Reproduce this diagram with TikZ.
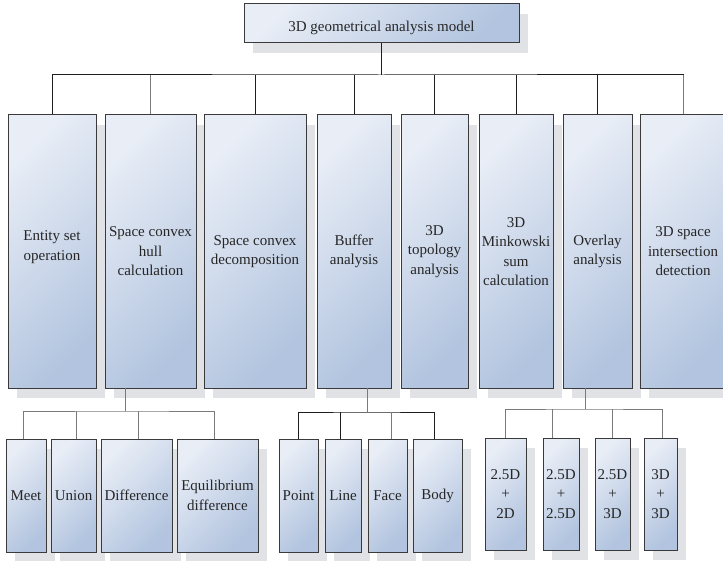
\documentclass[tikz,border=0pt]{standalone}
\usepackage{fontspec}
\setmainfont{Liberation Serif}
\usetikzlibrary{shadows}

\definecolor{boxlight}{HTML}{E8EDF6}
\definecolor{boxdark}{HTML}{B2C4DF}
\definecolor{shadowgray}{HTML}{E1E2E6}
\definecolor{edge}{HTML}{3A3A3A}
\definecolor{wiredark}{HTML}{1E1E1E}
\definecolor{wiregray}{HTML}{7A7A7A}

\tikzset{
  boxfont/.style={font=\fontsize{15pt}{19.5pt}\selectfont, text=black!85},
  box/.style={draw=edge, line width=1pt, inner sep=0pt, align=center,
    top color=boxlight, bottom color=boxdark, shading angle=45,
    drop shadow={shadow xshift=9pt, shadow yshift=-10pt, fill=shadowgray, opacity=1},
    boxfont},
  sz/.style 2 args={minimum width=#1pt, minimum height=#2pt},
  wire/.style={draw=wiredark, line width=1pt},
  softwire/.style={draw=wiregray, line width=1pt},
}

\begin{document}
\begin{tikzpicture}[x=1pt, y=-1pt]
\useasboundingbox (0,0) rectangle (723,561);

% root
\node[box, sz={275}{39}, text height=16.5pt, text depth=0pt] (root) at (381.5,23.5)
  {3D geometrical analysis model};

% first level
\node[box, sz={88}{273},
  label={[boxfont, align=center, yshift=4.5pt]center:Entity set\\operation}]
  (entity) at (52,251.5) {};
\node[box, sz={91}{273}]  (hull)   at (150.5,251.5) {Space convex\\hull\\calculation};
\node[box, sz={102}{273}] (decomp) at (255,251.5) {Space convex\\decomposition};
\node[box, sz={74}{273}]  (buffer) at (354,251.5) {Buffer\\analysis};
\node[box, sz={67}{273}]  (topo)   at (434.5,251.5) {3D\\topology\\analysis};
\node[box, sz={74}{273}]  (mink)   at (516,251.5) {3D\\Minkowski\\sum\\calculation};
\node[box, sz={69}{273}]  (overlay) at (597.5,251.5) {Overlay\\analysis};
\node[box, sz={86}{273}]  (inter)  at (683,251.5) {3D space\\intersection\\detection};

% set operations
\node[box, sz={40}{113}] (meet)  at (26,495.5) {Meet};
\node[box, sz={45}{113}] (union) at (73.5,495.5) {Union};
\node[box, sz={71}{113}] (diff)  at (136.5,495.5) {Difference};
\node[box, sz={81}{113}] (equi)  at (217.5,495.5) {Equilibrium\\difference};

% buffer kinds
\node[box, sz={39}{113}] (point) at (298.5,495.5) {Point};
\node[box, sz={36}{113}] (line)  at (343,495.5) {Line};
\node[box, sz={39}{113}] (face)  at (387.5,495.5) {Face};
\node[box, sz={49}{113}] (body)  at (437.5,495.5) {Body};

% overlay kinds
\node[box, sz={41}{112}] (ovA) at (505.5,494) {2.5D\\+\\2D};
\node[box, sz={36}{112}] (ovB) at (561,494) {2.5D\\+\\2.5D};
\node[box, sz={35}{112}] (ovC) at (612.5,494) {2.5D\\+\\3D};
\node[box, sz={33}{112}] (ovD) at (660.5,494) {3D\\+\\3D};

% top bus
\coordinate (rootbus) at (381.5,75);
\draw[wire] (root.south) -- (rootbus);
\draw[wire] (entity.north) |- (rootbus) -| (inter.north);
\draw[softwire] (hull.north) -- (hull.north |- rootbus);
\foreach \n in {decomp,buffer,topo,mink,overlay}
  \draw[wire] (\n.north) -- (\n.north |- rootbus);
\draw[softwire] (inter.north) -- (inter.north |- rootbus);

% set operation bus
\coordinate (hullout) at (125,388);
\coordinate (hullbus) at (125,411);
\draw[softwire] (hullout) -- (hullbus);
\draw[softwire] ([xshift=-3pt]meet.north) |- (hullbus) -| ([xshift=-3pt]equi.north);
\draw[softwire] ([xshift=3pt]union.north) -- ([xshift=3pt]union.north |- hullbus);
\draw[softwire] ([xshift=2pt]diff.north) -- ([xshift=2pt]diff.north |- hullbus);

% buffer bus
\coordinate (bufout) at (367,388);
\coordinate (bufbus) at (367,412);
\draw[softwire] (bufout) -- (bufbus);
\draw[wire] (point.north) |- (bufbus) -| ([xshift=-3pt]body.north);
\draw[wire] ([xshift=-3pt]line.north) -- ([xshift=-3pt]line.north |- bufbus);
\draw[softwire] ([xshift=4pt]face.north) -- ([xshift=4pt]face.north |- bufbus);

% overlay bus
\coordinate (ovout) at (585,388);
\coordinate (ovbus) at (585,409);
\draw[softwire] (ovout) -- (ovbus);
\draw[softwire] (ovA.north) |- (ovbus) -| ([xshift=1.5pt]ovD.north);
\draw[softwire] ([xshift=-9pt]ovB.north) -- ([xshift=-9pt]ovB.north |- ovbus);
\draw[softwire] (ovC.north) -- (ovC.north |- ovbus);
\end{tikzpicture}
\end{document}
